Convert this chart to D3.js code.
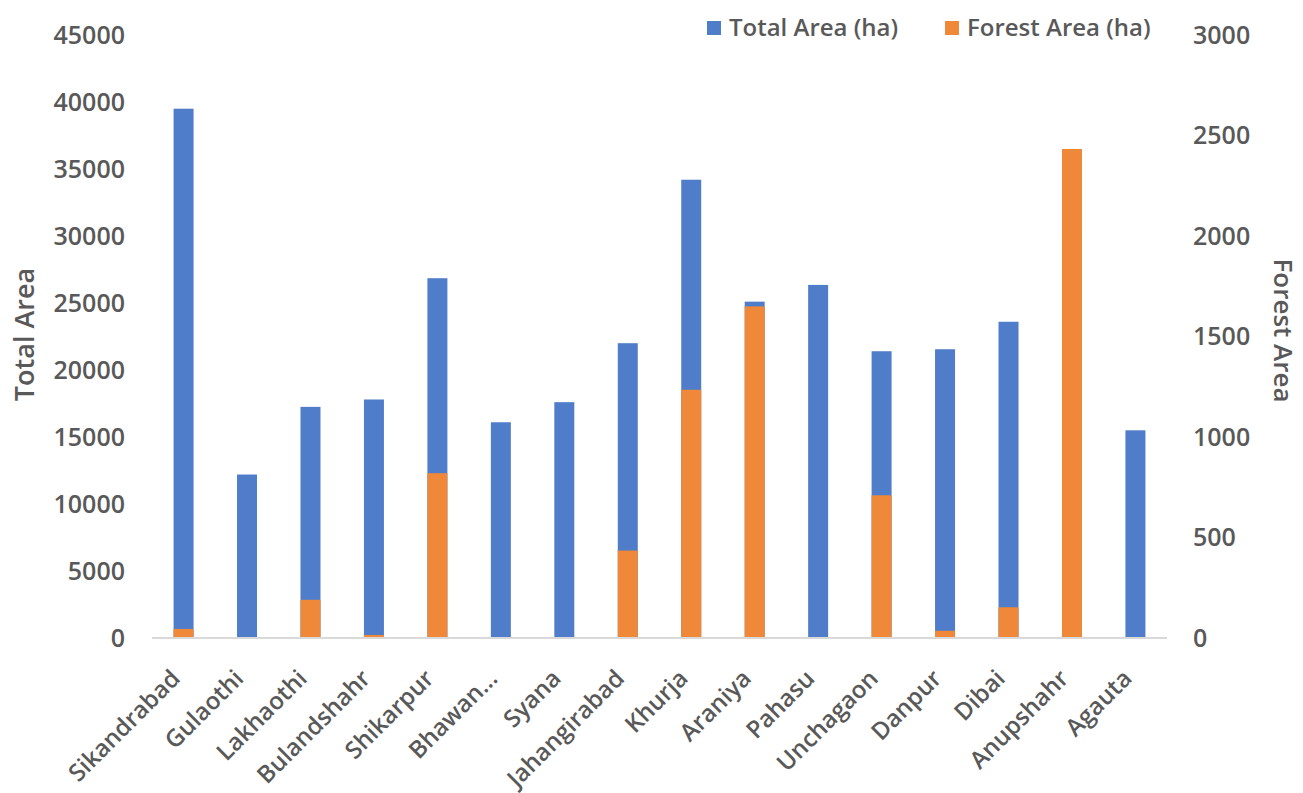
<!DOCTYPE html>
<html>
<head>
<meta charset="utf-8">
<script src="https://cdn.jsdelivr.net/npm/d3@7"></script>
<style>
  body { margin: 0; background: #fff; }
  text { font-family: "Open Sans", "Liberation Sans", sans-serif; font-weight: 600; fill: #595959; }
</style>
</head>
<body>
<svg id="chart"></svg>
<script>
const blocks = ["Sikandrabad", "Gulaothi", "Lakhaothi", "Bulandshahr", "Shikarpur", "Bhawan...", "Syana",
    "Jahangirabad", "Khurja", "Araniya", "Pahasu", "Unchagaon", "Danpur", "Dibai", "Anupshahr", "Agauta"];
const totalArea = [39500, 12200, 17250, 17800, 26850, 16100, 17600, 22000, 34200, 25100, 26350, 21400, 21550, 23600, 30000, 15500];
const forestArea = [45, 0, 190, 15, 820, 0, 0, 435, 1235, 1650, 0, 710, 36, 153, 2433, 0];
const leftTicks = [0, 5000, 10000, 15000, 20000, 25000, 30000, 35000, 40000, 45000];
const rightTicks = [0, 500, 1000, 1500, 2000, 2500, 3000];

const width = 1303, height = 793;
const margin = { top: 35, right: 136, bottom: 155, left: 152 };
const blue = "#4f7dca", orange = "#ef8839";

const svg = d3.select("#chart").attr("width", width).attr("height", height);

const x = d3.scaleBand()
    .domain(blocks)
    .range([margin.left, width - margin.right])
    .paddingInner(0.685)
    .paddingOuter(0.34);

const yLeft = d3.scaleLinear().domain([0, 45000]).range([height - margin.bottom, margin.top]);
const yRight = d3.scaleLinear().domain([0, 3000]).range([height - margin.bottom, margin.top]);

// total area bars
svg.append("g").selectAll("rect")
    .data(blocks)
    .join("rect")
    .attr("x", d => x(d))
    .attr("width", x.bandwidth())
    .attr("y", (d, i) => yLeft(totalArea[i]))
    .attr("height", (d, i) => yLeft(0) - yLeft(totalArea[i]))
    .attr("fill", blue);

// forest area bars on secondary axis
svg.append("g").selectAll("rect")
    .data(blocks)
    .join("rect")
    .attr("x", d => x(d))
    .attr("width", x.bandwidth())
    .attr("y", (d, i) => yRight(forestArea[i]))
    .attr("height", (d, i) => yRight(0) - yRight(forestArea[i]))
    .attr("fill", orange);

// baseline
svg.append("line")
    .attr("x1", margin.left).attr("x2", width - margin.right)
    .attr("y1", yLeft(0)).attr("y2", yLeft(0))
    .attr("stroke", "#d9d9d9").attr("stroke-width", 2);

// left axis
const gLeft = svg.append("g")
    .attr("transform", `translate(${margin.left - 27},0)`)
    .call(d3.axisLeft(yLeft).tickValues(leftTicks).tickSize(0).tickPadding(0).tickFormat(d3.format("d")));
gLeft.select(".domain").remove();
gLeft.selectAll("text").style("font-size", "25px").attr("fill", "#595959").style("font-family", null);

// right axis
const gRight = svg.append("g")
    .attr("transform", `translate(${width - margin.right + 26},0)`)
    .call(d3.axisRight(yRight).tickValues(rightTicks).tickSize(0).tickPadding(0).tickFormat(d3.format("d")));
gRight.select(".domain").remove();
gRight.selectAll("text").style("font-size", "25px").attr("fill", "#595959").style("font-family", null);

// category labels
svg.append("g").selectAll("text")
    .data(blocks)
    .join("text")
    .attr("text-anchor", "end")
    .attr("transform", d => `translate(${x(d) + x.bandwidth() / 2 - 2},${height - margin.bottom + 42}) rotate(-45)`)
    .style("font-size", "24px")
    .text(d => d);

// axis titles
svg.append("text")
    .attr("transform", `translate(34,${(yLeft(0) + yLeft(45000)) / 2 - 2}) rotate(-90)`)
    .attr("text-anchor", "middle")
    .style("font-size", "27px")
    .text("Total Area");

svg.append("text")
    .attr("transform", `translate(1274,${(yRight(0) + yRight(3000)) / 2 - 6}) rotate(90)`)
    .attr("text-anchor", "middle")
    .style("font-size", "26px")
    .text("Forest Area");

// legend
const legendItems = [
    { label: "Total Area (ha)", color: blue, x: 707 },
    { label: "Forest Area (ha)", color: orange, x: 945 }
];
const legend = svg.append("g").selectAll("g")
    .data(legendItems)
    .join("g")
    .attr("transform", d => `translate(${d.x},21)`);
legend.append("rect").attr("width", 14).attr("height", 14).attr("fill", d => d.color);
legend.append("text")
    .attr("x", 22).attr("y", 15)
    .style("font-size", "24px")
    .text(d => d.label);
</script>
</body>
</html>
